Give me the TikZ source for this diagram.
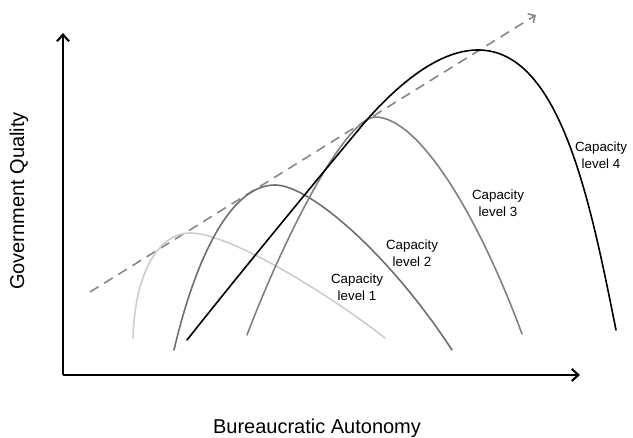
\documentclass[tikz,border=0pt]{standalone}
\usepackage{fontspec}
\setmainfont{Liberation Sans}
\usetikzlibrary{arrows.meta}

\definecolor{levelone}{RGB}{205,205,205}
\definecolor{leveltwo}{RGB}{110,110,110}
\definecolor{levelthree}{RGB}{128,128,128}
\definecolor{frontier}{RGB}{135,135,135}

\begin{document}
\begin{tikzpicture}[x=0.75pt, y=0.75pt,
    axis/.style={line width=1.6pt, -{Straight Barb[length=5pt, width=9pt, line width=1.6pt]}},
    curve/.style={line width=1.2pt, line cap=round, line join=round},
    label/.style={font=\fontsize{10}{12.5}\selectfont, align=center},
    title/.style={font=\fontsize{15}{18}\selectfont}]
  \useasboundingbox (0,0) rectangle (633,438);
  % the axes
  \coordinate (origin) at (63,63);
  \coordinate (ytop) at (63,405);
  \coordinate (xend) at (580,63);
  \draw[axis] (origin) -- (ytop);
  \draw[axis] (origin) -- (xend);
  \node[title] (xlabel) at (317,10) {Bureaucratic Autonomy};
  \node[title, rotate=90] (ylabel) at (19,237) {Government Quality};
  % the frontier, touching the top of every curve
  \coordinate (fstart) at (90,146);
  \coordinate (fend) at (536,423);
  \draw[curve, frontier, dash pattern=on 7.5pt off 5pt, line cap=butt,
    -{Straight Barb[length=4pt, width=8pt, line width=1.2pt]}] (fstart) -- (fend);
  % the capacity curves
  \draw[curve, levelone] (133,100) .. controls (135,168) and (160,205) .. (190,205)
    .. controls (230,205) and (330,143) .. (385,100);
  \draw[curve, leveltwo] (174,88) .. controls (195,178) and (230,253) .. (275,253)
    .. controls (310,253) and (390,183) .. (452,88);
  \draw[curve, levelthree] (247,103) .. controls (280,190) and (342,318) .. (375,321)
    .. controls (420,321) and (480,218) .. (522,104);
  \draw[curve, black] (187,98) .. controls (240,165) and (320,262) .. (365,316)
    .. controls (400,356) and (440,388) .. (478,388)
    .. controls (560,388) and (590,238) .. (616,108);
  \node[label] (cap1) at (357,151) {Capacity\\level 1};
  \node[label] (cap2) at (412,185) {Capacity\\level 2};
  \node[label] (cap3) at (498,235) {Capacity\\level 3};
  \node[label] (cap4) at (601,283) {Capacity\\level 4};
\end{tikzpicture}
\end{document}
